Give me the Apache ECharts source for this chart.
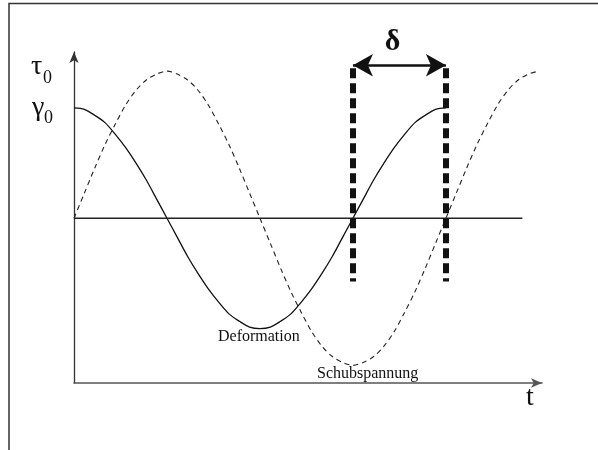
<!DOCTYPE html>
<html>
<head>
<meta charset="utf-8">
<script src="https://cdn.jsdelivr.net/npm/echarts@6/dist/echarts.min.js"></script>
<style>
  html, body { margin: 0; padding: 0; background: #fff; }
  #chart { width: 598px; height: 450px; }
</style>
</head>
<body>
<div id="chart"></div>
<script>
// phase angle in degrees along t (one period = 360)
const phase = [0, 10, 20, 30, 40, 50, 60, 70, 80, 90, 100, 110, 120, 130, 140, 150, 160, 170, 180,
  190, 200, 210, 220, 230, 240, 250, 260, 270, 280, 290, 300, 310, 320, 330, 340, 350, 360,
  370, 380, 390, 400, 410, 420, 430, 440, 450]
// Schubspannung, tau0 = 1
const schub = [0, 0.17, 0.34, 0.5, 0.64, 0.77, 0.87, 0.94, 0.98, 1, 0.98, 0.94, 0.87, 0.77, 0.64, 0.5, 0.34, 0.17, 0,
  -0.17, -0.34, -0.5, -0.64, -0.77, -0.87, -0.94, -0.98, -1, -0.98, -0.94, -0.87, -0.77, -0.64, -0.5, -0.34, -0.17, 0,
  0.17, 0.34, 0.5, 0.64, 0.77, 0.87, 0.94, 0.98, 1]
// Deformation, gamma0 = 0.75 (ends after one period)
const deform = [0.75, 0.74, 0.7, 0.65, 0.57, 0.48, 0.375, 0.26, 0.13, 0, -0.13, -0.26, -0.375, -0.48, -0.57, -0.65, -0.7, -0.74, -0.75,
  -0.74, -0.7, -0.65, -0.57, -0.48, -0.375, -0.26, -0.13, 0, 0.13, 0.26, 0.375, 0.48, 0.57, 0.65, 0.7, 0.74, 0.75]
const baseEnd = 434
const deltaFrom = 270
const deltaTo = 360
const markerTop = 1.02
const markerBottom = -0.43
const arrowY = 1.04

const serif = '"Liberation Serif", "DejaVu Serif", serif'

const chart = echarts.init(document.getElementById('chart'))

const option = {
  animation: false,
  backgroundColor: '#fff',
  grid: { left: 74, right: 56, top: 52, bottom: 67 },
  xAxis: {
    type: 'value',
    min: 0,
    max: 453,
    axisLine: {
      show: true,
      onZero: false,
      symbol: ['none', 'arrow'],
      symbolSize: [7, 11],
      lineStyle: { color: '#555', width: 1.5 }
    },
    axisTick: { show: false },
    axisLabel: { show: false },
    splitLine: { show: false }
  },
  yAxis: {
    type: 'value',
    min: -1.12,
    max: 1.13,
    axisLine: {
      show: true,
      onZero: false,
      symbol: ['none', 'arrow'],
      symbolSize: [7, 11],
      lineStyle: { color: '#333', width: 1.3 }
    },
    axisTick: { show: false },
    axisLabel: { show: false },
    splitLine: { show: false }
  },
  series: [
    {
      name: 'Schubspannung',
      type: 'line',
      smooth: 0.3,
      symbol: 'none',
      data: phase.map((p, i) => [p, schub[i]]),
      lineStyle: { color: '#222', width: 1.1, type: [5, 4] }
    },
    {
      name: 'Deformation',
      type: 'line',
      smooth: 0.3,
      symbol: 'none',
      data: deform.map((v, i) => [phase[i], v]),
      lineStyle: { color: '#111', width: 1.3 }
    },
    {
      name: 'null',
      type: 'line',
      symbol: 'none',
      data: [[0, 0], [baseEnd, 0]],
      lineStyle: { color: '#222', width: 1.3 },
      markLine: {
        silent: true,
        animation: false,
        data: [
          [
            { coord: [deltaFrom, markerTop], symbol: 'none' },
            { coord: [deltaFrom, markerBottom], symbol: 'none' }
          ],
          [
            { coord: [deltaTo, markerTop], symbol: 'none' },
            { coord: [deltaTo, markerBottom], symbol: 'none' }
          ]
        ],
        lineStyle: { color: '#111', width: 6, type: [10, 5] },
        label: { show: false }
      }
    },
    {
      name: 'delta',
      type: 'line',
      data: [],
      markLine: {
        silent: true,
        animation: false,
        symbol: ['arrow', 'arrow'],
        symbolSize: [17, 20],
        data: [
          [
            { coord: [deltaFrom, arrowY] },
            { coord: [deltaTo, arrowY] }
          ]
        ],
        lineStyle: { color: '#111', width: 2.5, type: 'solid' },
        label: {
          show: true,
          position: 'middle',
          formatter: 'δ',
          distance: 8,
          offset: [-7, 0],
          color: '#111',
          fontSize: 30,
          fontWeight: 'bold',
          fontFamily: serif
        }
      }
    }
  ],
  graphic: [
    {
      type: 'polyline',
      shape: { points: [[9, 450], [9, 3.5], [598, 3.5]] },
      style: { stroke: '#333', lineWidth: 1.5, fill: null }
    },
    { type: 'text', left: 31, top: 53, style: { text: 'τ', font: '28px ' + serif, fill: '#111' } },
    { type: 'text', left: 43, top: 69, style: { text: '0', font: '18px ' + serif, fill: '#111' } },
    { type: 'text', left: 32, top: 94, style: { text: 'γ', font: '28px ' + serif, fill: '#111' } },
    { type: 'text', left: 44, top: 109, style: { text: '0', font: '18px ' + serif, fill: '#111' } },
    {
      type: 'text', left: 218, top: 329,
      style: { text: 'Deformation', font: '16px ' + serif, fill: '#111' }
    },
    {
      type: 'text', left: 317, top: 366,
      style: { text: 'Schubspannung', font: '16px ' + serif, fill: '#111' }
    },
    {
      type: 'text', left: 526, top: 384,
      style: { text: 't', font: '28px ' + serif, fill: '#111' }
    }
  ]
}

chart.setOption(option)
</script>
</body>
</html>
